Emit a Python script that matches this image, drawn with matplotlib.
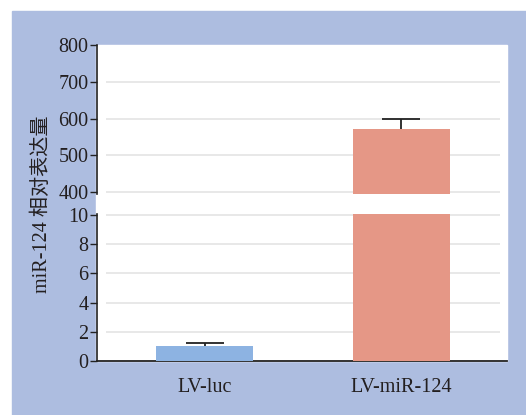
import matplotlib
matplotlib.use("Agg")
import matplotlib.pyplot as plt
from matplotlib.patches import Rectangle

# data
groups = ["LV-luc", "LV-miR-124"]
means = [1.03, 572]
errs = [0.2, 28]
bar_colors = ["#8db3e2", "#e59786"]

top_ticks = [400, 500, 600, 700, 800]
low_ticks = [0, 2, 4, 6, 8, 10]

W, H = 526, 415
bg_blue = "#adbde0"
txt = "#231f20"
grid_c = "#e4e4e4"

plt.rcParams["font.family"] = ["Liberation Serif", "Noto Sans CJK SC"]

fig = plt.figure(figsize=(W / 100, H / 100), dpi=100)
fig.patch.set_facecolor("white")

# blue panel and white plot area (pixel coords -> figure fractions)
def px(x0, y0, x1, y1):
    return (x0 / W, 1 - y1 / H), (x1 - x0) / W, (y1 - y0) / H

xy, w, h = px(12, 11, W, H)
fig.patches.append(Rectangle(xy, w, h, transform=fig.transFigure, color=bg_blue, zorder=-2))
xy, w, h = px(96, 45, 507, 361)
fig.patches.append(Rectangle(xy, w, h, transform=fig.transFigure, color="white", zorder=-1))

left = 96.7 / W
width = (507 - 96.7) / W
ax_top = fig.add_axes([left, 1 - 193.7 / H, width, (193.7 - 45) / H])
ax_low = fig.add_axes([left, 1 - 361 / H, width, (361 - 213.5) / H])

x = list(range(len(groups)))
for ax, lim, ticks in [(ax_top, (396, 800), top_ticks), (ax_low, (0, 10.1), low_ticks)]:
    ax.patch.set_visible(False)
    ax.set_xlim(-0.549, 1.538)
    ax.set_ylim(*lim)
    grid_vals = [t for t in ticks if lim[0] < t < 800 and t > 0]
    ax.hlines(grid_vals, -0.5, 1.5, color=grid_c, lw=1.2, zorder=1)
    eb = ax.errorbar(x, means, yerr=[[0] * len(errs), errs], fmt="none",
                     ecolor="#222222", elinewidth=1.3, capsize=13.5, capthick=1.3, zorder=2)
    # only the upper cap is wanted
    eb[1][0].set_visible(False)
    ax.bar(x, means, width=0.495, color=bar_colors, zorder=3)
    ax.set_yticks(ticks)
    ax.tick_params(axis="y", direction="out", length=5, width=1, color="#222222",
                   pad=1, labelsize=14.5, labelcolor=txt)
    for s in ["top", "right"]:
        ax.spines[s].set_visible(False)
    ax.spines["left"].set_color("#222222")
    ax.spines["left"].set_linewidth(1.2)

ax_top.spines["bottom"].set_visible(False)
ax_top.set_xticks([])

ax_low.spines["bottom"].set_color("#222222")
ax_low.spines["bottom"].set_linewidth(1.3)
ax_low.set_xticks(x)
ax_low.set_xticklabels(groups)
ax_low.tick_params(axis="x", length=0, pad=12, labelsize=14.5, labelcolor=txt)

fig.text(42.7 / W, 1 - 204 / H, "miR-124 相对表达量", rotation=90, ha="center", va="center",
         fontsize=14.5, color=txt)

fig.savefig("out.png", dpi=100)
